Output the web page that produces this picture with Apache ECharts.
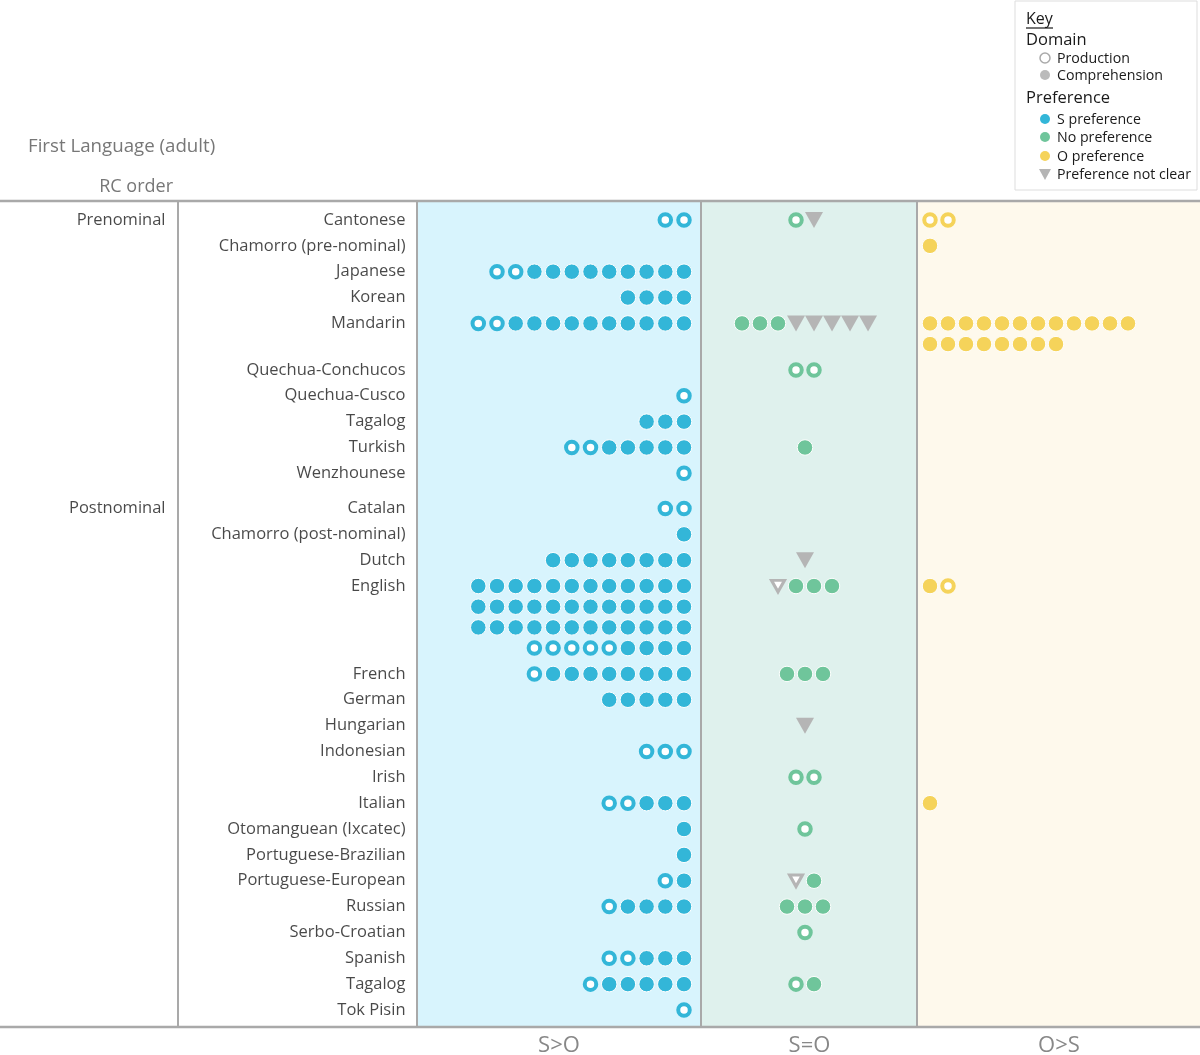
<!DOCTYPE html>
<html>
<head>
<meta charset="utf-8">
<script src="https://cdn.jsdelivr.net/npm/echarts@6/dist/echarts.min.js"></script>
<style>
html,body{margin:0;padding:0;background:#fff;}
#chart{width:1200px;height:1055px;}
</style>
</head>
<body>
<div id="chart"></div>
<script>
// ---------------- DATA ----------------
const languages = [
  'Cantonese','Chamorro (pre-nominal)','Japanese','Korean','Mandarin',
  'Quechua-Conchucos','Quechua-Cusco','Tagalog','Turkish','Wenzhounese',
  'Catalan','Chamorro (post-nominal)','Dutch','English','French','German',
  'Hungarian','Indonesian','Irish','Italian','Otomanguean (Ixcatec)',
  'Portuguese-Brazilian','Portuguese-European','Russian','Serbo-Croatian',
  'Spanish','Tagalog','Tok Pisin'
];
const groupLabels = ['Prenominal','Postnominal'];
const groupStarts = [0, 10];
const panelNames = ['S>O','S=O','O>S'];
// Codes: P = production (open), C = comprehension (filled),
//        T = preference not clear (comprehension), t = not clear (production)
const sPreference = [
  ['PP'], [], ['PPCCCCCCCCC'], ['CCCC'], ['PPCCCCCCCCCC'],
  [], ['P'], ['CCC'], ['PPCCCCC'], ['P'],
  ['PP'], ['C'], ['CCCCCCCC'],
  ['CCCCCCCCCCCC','CCCCCCCCCCCC','CCCCCCCCCCCC','PPPPPCCCC'],
  ['PCCCCCCCC'], ['CCCCC'], [], ['PPP'], [], ['PPCCC'], ['C'],
  ['C'], ['PC'], ['PCCCC'], [], ['PPCCC'], ['PCCCCC'], ['P']
];
const noPreference = [
  ['PT'], [], [], [], ['CCCTTTTT'],
  ['PP'], [], [], ['C'], [],
  [], [], ['T'], ['tCCC'],
  ['CCC'], [], ['T'], [], ['PP'], [], ['P'],
  [], ['tC'], ['CCC'], ['P'], [], ['PC'], []
];
const oPreference = [
  ['PP'], ['C'], [], [], ['CCCCCCCCCCCC','CCCCCCCC'],
  [], [], [], [], [],
  [], [], [], ['CP'],
  [], [], [], [], [], ['C'], [],
  [], [], [], [], [], [], []
];

// ---------------- LAYOUT / STYLE ----------------
const FONT = "'Open Sans', 'Noto Sans', sans-serif";
const BLUE = '#33b6d8', GREEN = '#6fc59b', YELLOW = '#f5d35a', GRAY = '#b5b5b5';
const LINE = '#a9a9a9';
const WRAP = 0.8, GROUP_GAP = 0.36;
const TOP = 201, BOTTOM = 1027, ROW_PX = 25.85;

// row positions
const nRows = languages.map((_, i) => Math.max(1, sPreference[i].length, noPreference[i].length, oPreference[i].length));
const rowPos = [];
let pos = 0;
languages.forEach((_, i) => {
  if (i > 0) {
    pos += 1 + WRAP * (nRows[i - 1] - 1);
    if (groupStarts.includes(i)) pos += GROUP_GAP;
  }
  rowPos.push(pos);
});
const yMin = -(220 - TOP) / ROW_PX;
const yMax = yMin + (BOTTOM - TOP) / ROW_PX;

const panels = [
  {left: 417, width: 284, anchor: 684, step: 18.7, align: 'right', inverse: true, bg: '#d8f4fd'},
  {left: 702, width: 215, anchor: 805, step: 18.0, align: 'center', inverse: false, bg: '#dff1ed'},
  {left: 918, width: 282, anchor: 930, step: 18.0, align: 'left', inverse: false, bg: '#fef9ec'}
];
panels.forEach(p => {
  const span = p.width / p.step;
  if (p.inverse) {
    p.min = -((p.left + p.width) - p.anchor) / p.step;
  } else {
    p.min = -(p.anchor - p.left) / p.step;
  }
  p.max = p.min + span;
});

function buildMarks(data, align) {
  const out = {P: [], C: [], T: [], t: []};
  data.forEach((rows, i) => {
    rows.forEach((s, j) => {
      const n = s.length;
      for (let c = 0; c < n; c++) {
        let x;
        if (align === 'right') x = n - 1 - c;
        else if (align === 'center') x = c - (n - 1) / 2;
        else x = c;
        out[s[c]].push([x, rowPos[i] + j * WRAP]);
      }
    });
  });
  return out;
}
const marks = [buildMarks(sPreference, 'right'), buildMarks(noPreference, 'center'), buildMarks(oPreference, 'left')];
const colors = [BLUE, GREEN, YELLOW];
const TRI = 'path://M0,0L20,0L10,18Z';

const series = [];
marks.forEach((m, g) => {
  const col = colors[g];
  series.push({type: 'scatter', xAxisIndex: g, yAxisIndex: g, silent: true, data: m.C,
    symbol: 'circle', symbolSize: 15.5, itemStyle: {color: col, borderColor: '#fff', borderWidth: 1, opacity: 1}});
  series.push({type: 'scatter', xAxisIndex: g, yAxisIndex: g, silent: true, data: m.P,
    symbol: 'circle', symbolSize: 11.5, itemStyle: {color: '#fff', borderColor: col, borderWidth: 4, opacity: 1}});
  series.push({type: 'scatter', xAxisIndex: g, yAxisIndex: g, silent: true, data: m.T,
    symbol: TRI, symbolSize: [18, 16], itemStyle: {color: GRAY, opacity: 1}});
  series.push({type: 'scatter', xAxisIndex: g, yAxisIndex: g, silent: true, data: m.t,
    symbol: TRI, symbolSize: [13, 11.5], itemStyle: {color: '#fff', borderColor: GRAY, borderWidth: 3, opacity: 1}});
});
// language labels
series.push({type: 'scatter', xAxisIndex: 0, yAxisIndex: 0, silent: true, clip: false,
  symbol: 'circle', symbolSize: 1, itemStyle: {color: 'rgba(0,0,0,0)'},
  data: languages.map((n, i) => ({value: [panels[0].max, rowPos[i]], name: n})),
  label: {show: true, position: 'left', distance: 11, formatter: p => p.name,
    color: '#1a1a1a', fontSize: 16.5, fontFamily: FONT}});
// group labels
series.push({type: 'scatter', xAxisIndex: 0, yAxisIndex: 0, silent: true, clip: false,
  symbol: 'circle', symbolSize: 1, itemStyle: {color: 'rgba(0,0,0,0)'},
  data: groupLabels.map((n, k) => ({value: [panels[0].max, rowPos[groupStarts[k]]], name: n})),
  label: {show: true, position: 'left', distance: 251, formatter: p => p.name,
    color: '#1a1a1a', fontSize: 16.5, fontFamily: FONT}});

const grids = panels.map(p => ({left: p.left, width: p.width, top: TOP, bottom: 1055 - BOTTOM,
  outerBoundsMode: 'none', containLabel: false,
  show: true, backgroundColor: p.bg, borderWidth: 0}));
const xAxes = panels.map((p, g) => ({type: 'value', gridIndex: g, min: p.min, max: p.max, inverse: p.inverse,
  axisLine: {show: false}, axisTick: {show: false}, axisLabel: {show: false}, splitLine: {show: false},
  name: panelNames[g], nameLocation: 'middle', nameGap: 8,
  nameTextStyle: {color: '#888', fontSize: 22, fontFamily: FONT}}));
const yAxes = panels.map((p, g) => ({type: 'value', gridIndex: g, min: yMin, max: yMax, inverse: true,
  axisLine: {show: false}, axisTick: {show: false}, axisLabel: {show: false}, splitLine: {show: false}}));

function line(x1, y1, x2, y2, w, color) {
  return {type: 'line', shape: {x1, y1, x2, y2}, style: {stroke: color || LINE, lineWidth: w || 2}, silent: true, z: 10};
}
function txt(x, y, text, size, color, align) {
  return {type: 'text', x, y, silent: true, z: 12,
    style: {text, fontSize: size, fontFamily: FONT, fill: color, textAlign: align || 'left', textVerticalAlign: 'middle'}};
}
function dot(cx, cy, fill, stroke) {
  return {type: 'circle', shape: {cx, cy, r: 5}, silent: true, z: 12,
    style: {fill, stroke: stroke || null, lineWidth: stroke ? 1.5 : 0}};
}

const graphic = [
  line(0, TOP, 1200, TOP, 2.5),
  line(0, BOTTOM, 1200, BOTTOM, 2.5),
  line(178, TOP, 178, BOTTOM, 2),
  line(417, TOP, 417, BOTTOM, 2),
  line(701, TOP, 701, BOTTOM, 2),
  line(917, TOP, 917, BOTTOM, 2),
  txt(28, 147, 'First Language (adult)', 18.7, '#777'),
  txt(173, 187, 'RC order', 18, '#777', 'right'),
  {type: 'rect', shape: {x: 1015, y: 1, width: 182, height: 189}, silent: true, z: 10,
    style: {fill: '#fff', stroke: '#ddd', lineWidth: 1}},
  txt(1026, 19, 'Key', 16, '#1a1a1a'),
  line(1026, 28, 1053, 28, 1.2, '#1a1a1a'),
  txt(1026, 40, 'Domain', 16.5, '#1a1a1a'),
  dot(1045, 58, '#fff', '#aaa'), txt(1057, 59, 'Production', 14.2, '#1a1a1a'),
  dot(1045, 75, '#bbb'), txt(1057, 76, 'Comprehension', 14.2, '#1a1a1a'),
  txt(1026, 98, 'Preference', 16.5, '#1a1a1a'),
  dot(1045, 119, BLUE), txt(1057, 120, 'S preference', 14.2, '#1a1a1a'),
  dot(1045, 137, GREEN), txt(1057, 138, 'No preference', 14.2, '#1a1a1a'),
  dot(1045, 156, YELLOW), txt(1057, 157, 'O preference', 14.2, '#1a1a1a'),
  {type: 'polygon', shape: {points: [[1039, 169], [1051, 169], [1045, 180]]}, silent: true, z: 12, style: {fill: GRAY}},
  txt(1057, 175, 'Preference not clear', 14.2, '#1a1a1a')
];

const chart = echarts.init(document.getElementById('chart'), null, {renderer: 'canvas'});
chart.setOption({
  animation: false,
  backgroundColor: '#fff',
  grid: grids,
  xAxis: xAxes,
  yAxis: yAxes,
  series,
  graphic
});
</script>
</body>
</html>
